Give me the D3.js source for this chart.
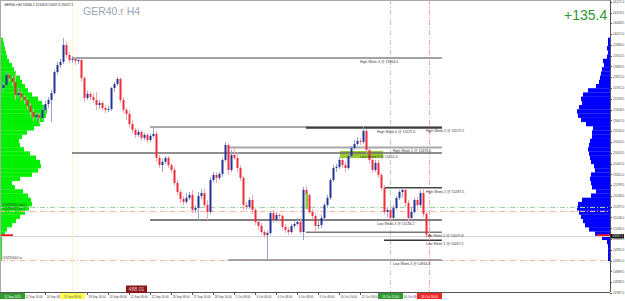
<!DOCTYPE html>
<html lang="en">
<head>
<meta charset="UTF-8">
<title>GER40.r H4</title>
<script src="https://cdn.jsdelivr.net/npm/d3@7"></script>
<style>
  body { margin: 0; background: #fff; }
  svg { display: block; font-family: "Liberation Sans", Arial, sans-serif; }
</style>
</head>
<body>
<div id="chart"></div>
<script>
// H4 bars, [open, high, low, close]
var candles = [
  [15761,15790,15742,15775],[15775,15837,15766,15823],[15823,15832,15790,15808],[15808,15818,15770,15790],
  [15790,15832,15704,15728],[15728,15761,15714,15737],[15737,15747,15699,15718],[15718,15728,15685,15704],
  [15704,15714,15657,15676],[15676,15690,15628,15647],[15647,15661,15604,15623],[15623,15647,15609,15633],
  [15633,15642,15590,15619],[15619,15671,15604,15657],[15657,15699,15642,15685],[15685,15718,15666,15704],
  [15704,15752,15600,15737],[15737,15847,15728,15837],[15837,15885,15823,15870],[15870,15899,15856,15885],
  [15885,15998,15875,15965],[15965,15980,15904,15918],[15918,15932,15880,15894],[15894,15913,15880,15899],
  [15899,15908,15870,15889],[15889,15904,15875,15894],[15894,15899,15790,15808],[15808,15818,15695,15714],
  [15714,15747,15704,15733],[15733,15742,15704,15718],[15718,15737,15690,15704],[15704,15742,15657,15680],
  [15680,15704,15661,15690],[15690,15699,15652,15666],[15666,15676,15642,15657],[15657,15676,15647,15661],
  [15661,15766,15652,15761],[15761,15790,15742,15780],[15780,15813,15771,15804],[15804,15813,15690,15704],
  [15704,15718,15642,15657],[15657,15666,15609,15638],[15638,15657,15576,15590],[15590,15609,15547,15562],
  [15562,15571,15524,15538],[15538,15566,15528,15552],[15552,15562,15509,15524],[15524,15547,15514,15538],
  [15538,15547,15500,15514],[15514,15543,15505,15533],[15533,15571,15524,15543],[15543,15557,15410,15429],
  [15429,15443,15381,15395],[15395,15424,15362,15410],[15410,15438,15400,15429],[15429,15438,15381,15395],
  [15395,15405,15357,15372],[15372,15386,15296,15310],[15310,15324,15253,15267],[15267,15281,15215,15234],
  [15234,15248,15205,15220],[15220,15262,15210,15239],[15239,15267,15229,15253],[15253,15277,15167,15182],
  [15182,15205,15167,15191],[15191,15267,15134,15248],[15248,15281,15234,15262],[15262,15286,15191,15205],
  [15205,15229,15134,15172],[15172,15338,15163,15324],[15324,15362,15315,15348],[15348,15362,15310,15334],
  [15334,15362,15324,15353],[15353,15429,15338,15419],[15419,15505,15410,15490],[15490,15500,15348,15372],
  [15372,15467,15362,15443],[15443,15476,15419,15429],[15429,15457,15362,15381],[15381,15395,15319,15334],
  [15334,15343,15182,15205],[15205,15220,15182,15196],[15196,15243,15186,15229],[15229,15253,15163,15182],
  [15182,15191,15110,15125],[15125,15134,15087,15106],[15106,15120,15068,15077],[15077,15087,15049,15063],
  [15063,15082,14944,15072],[15072,15177,15063,15167],[15167,15182,15120,15134],[15134,15172,15125,15158],
  [15158,15167,15134,15153],[15153,15163,15087,15101],[15101,15115,15072,15087],[15087,15101,15063,15077],
  [15077,15115,15068,15106],[15106,15125,15096,15115],[15115,15144,15106,15125],[15125,15144,15068,15077],
  [15077,15291,15039,15277],[15277,15296,15243,15253],[15253,15262,15163,15172],[15172,15186,15139,15153],
  [15153,15167,15077,15106],[15106,15134,15091,15110],[15110,15158,15096,15144],[15144,15215,15134,15205],
  [15205,15253,15196,15239],[15239,15334,15229,15324],[15324,15395,15315,15381],[15381,15400,15362,15386],
  [15386,15433,15376,15419],[15419,15429,15381,15395],[15395,15410,15362,15381],[15381,15448,15372,15438],
  [15438,15486,15429,15476],[15476,15514,15467,15495],[15495,15528,15486,15509],[15509,15524,15490,15505],
  [15505,15576,15495,15557],[15557,15566,15452,15467],[15467,15476,15405,15419],[15419,15433,15357,15372],
  [15372,15419,15362,15405],[15405,15419,15334,15348],[15348,15357,15272,15286],[15286,15300,15158,15172],
  [15172,15196,15148,15182],[15182,15205,15120,15144],[15144,15205,15134,15191],[15191,15248,15182,15239],
  [15239,15277,15229,15267],[15267,15286,15243,15277],[15277,15286,15196,15215],[15215,15229,15120,15144],
  [15144,15196,15134,15172],[15172,15239,15163,15229],[15229,15243,15182,15205],[15205,15277,15196,15262],
  [15262,15286,15148,15163],[15163,15172,15053,15066],[15066,15107,15037,15057]
];

// price axis labels
var priceTicks = [16171.0, 16119.5, 16068.5, 16017.0, 15966.0, 15914.5, 15863.5, 15812.0, 15761.0,
  15709.5, 15658.5, 15607.0, 15556.0, 15504.5, 15453.5, 15402.0, 15351.0, 15299.5, 15248.5,
  15197.0, 15146.0, 15094.5, 15043.5, 14992.0, 14941.0, 14889.5, 14838.5, 14787.0];

// time axis labels (bar index + text)
var timeBars = [7, 14, 28, 35, 42, 49, 56, 63, 70, 77, 84, 91, 98, 105, 112, 119, 133];
var timeLabels = ["12 Sep 16:00", "14 Sep 08:00", "18 Sep 16:00", "20 Sep 08:00", "21 Sep 08:00",
  "22 Sep 16:00", "26 Sep 08:00", "27 Sep 16:00", "28 Sep 16:00", "2 Oct 08:00", "3 Oct 08:00",
  "4 Oct 08:00", "6 Oct 08:00", "9 Oct 08:00", "10 Oct 16:00", "12 Oct 08:00", "16 Oct 08:00"];

// weekly high / low levels
var levelNames = ["High Week 3", "High Week 2", "High Week 4", "High Week 5", "Low Week 5",
  "High Week 1", "Low Week 4", "Low Week 2", "Low Week 1", "Low Week 3"];
var levelPrices = [15904.0, 15575.5, 15572.0, 15478.5, 15452.4, 15287.5, 15134.2, 15075.8, 15037.5, 14944.0];
var levelFromBar = [23, 49, 101, 75, 23, 127, 49, 101, 127, 75];
var levelLabelBar = [119, 141, 124.7, 130, 119, 141, 124.7, 141, 141, 130];
var levelEndBar = 146.3;

// volume profile (20 pt rows, from 15980 down to 14940)
var profileRows = d3.range(15980, 14939, -20);
var leftVolume = [30,40,50,60,70,90,120,140,160,200,220,250,280,320,380,420,450,470,460,440,400,340,270,
  220,190,200,240,300,360,400,410,380,320,200,120,150,230,280,310,320,290,250,200,160,120,70,50,20,20,20,20,20,20];
var rightVolume = [20,20,30,20,30,70,60,80,90,100,110,140,220,270,290,280,310,330,320,290,240,170,180,
  180,200,210,220,210,200,190,160,150,190,200,190,180,140,190,280,320,330,310,290,270,250,210,150,80,30,20,20,20,20];
var currentRowVolume = [130, 130];

// dash-dot reference levels
var refPrices = [15196, 15177, 14946];
var refNames = ["#20230925 wk#1", "#20230925 w#1", "#20231002 w"];

var zone = {fromBar: 112.3, toBar: 126.7, hi: 15462, lo: 15428};
var markedBar = {bar: 101, hi: 15262, lo: 15186};

var markerBars = [0, 23, 129, 142];
var markerTexts = ["11 Sep 2023", "15 Sep 08:00", "13 Oct 12:00", "16 Oct 16:00"];

var lastPrice = 15057.1;

var W = 625, H = 301, plotR = 610, plotB = 292;
var small = 3.3;

var svg = d3.select("#chart").append("svg")
    .attr("width", W).attr("height", H);

svg.append("rect").attr("width", W).attr("height", H).attr("fill", "#fff");

var x = d3.scaleLinear().domain([0, 142]).range([3, 429]);
var y = d3.scaleLinear().domain([14792, 16179]).range([plotB, 0]);
var vol = d3.scaleLinear().domain([0, 100]).range([0, 10]);

var plot = svg.append("g");

// left (green) profile
plot.selectAll("rect.lp").data(profileRows).join("rect")
    .attr("x", 0)
    .attr("y", function (p) { return y(p + 20); })
    .attr("width", function (p, i) { return vol(leftVolume[i]); })
    .attr("height", function (p) { return y(p) - y(p + 20) + 0.2; })
    .attr("fill", "#00f000");

// right (blue) profile
plot.selectAll("rect.rp").data(profileRows).join("rect")
    .attr("x", function (p, i) { return plotR - vol(rightVolume[i]); })
    .attr("y", function (p) { return y(p + 20); })
    .attr("width", function (p, i) { return vol(rightVolume[i]); })
    .attr("height", function (p) { return y(p) - y(p + 20) + 0.2; })
    .attr("fill", "#0000ff");

// current price row in both profiles
plot.append("rect").attr("x", 0).attr("y", y(15066)).attr("width", vol(currentRowVolume[0]))
    .attr("height", y(15053) - y(15066)).attr("fill", "#ff1010");
plot.append("rect").attr("x", plotR - vol(currentRowVolume[1])).attr("y", y(15066))
    .attr("width", vol(currentRowVolume[1])).attr("height", y(15053) - y(15066)).attr("fill", "#ff1010");

// dash-dot horizontal levels
var refColors = ["#9fd09f", "#f5b59a", "#f5b59a"];
plot.selectAll("line.ref").data(refPrices).join("line")
    .attr("x1", 0).attr("x2", plotR)
    .attr("y1", function (d) { return Math.round(y(d)) + 0.5; })
    .attr("y2", function (d) { return Math.round(y(d)) + 0.5; })
    .attr("stroke", function (d, i) { return refColors[i]; })
    .attr("stroke-dasharray", "5,2,1,2");

plot.selectAll("text.ref").data(refPrices).join("text")
    .attr("x", 2).attr("y", function (d) { return y(d) - 0.8; })
    .attr("font-size", small).attr("fill", "#333")
    .text(function (d, i) { return refNames[i]; });

// current price line
plot.append("line").attr("x1", 0).attr("x2", plotR)
    .attr("y1", Math.round(y(lastPrice)) + 0.5).attr("y2", Math.round(y(lastPrice)) + 0.5)
    .attr("stroke", "#d4d4d4");

// vertical markers
plot.append("line").attr("x1", x(23) + 0.5).attr("x2", x(23) + 0.5).attr("y1", 0).attr("y2", plotB)
    .attr("stroke", "#f4eea0").attr("stroke-dasharray", "1,1");
plot.append("line").attr("x1", x(129) + 0.5).attr("x2", x(129) + 0.5).attr("y1", 0).attr("y2", plotB)
    .attr("stroke", "#b4dcb4").attr("stroke-dasharray", "5,2,1,2");
plot.append("line").attr("x1", x(142) + 0.5).attr("x2", x(142) + 0.5).attr("y1", 0).attr("y2", plotB)
    .attr("stroke", "#f4a8a8").attr("stroke-dasharray", "5,2,1,2");

// zone box
plot.append("rect")
    .attr("x", x(zone.fromBar)).attr("width", x(zone.toBar) - x(zone.fromBar))
    .attr("y", y(zone.hi)).attr("height", y(zone.lo) - y(zone.hi))
    .attr("fill", "#9acd32");

// weekly level lines
var levelColor = {"High Week 3": "#a2a2a2", "High Week 2": "#8c8c8c", "High Week 4": "#3c3c3c",
  "High Week 5": "#a8a8a8", "Low Week 5": "#6a6a6a", "High Week 1": "#444", "Low Week 4": "#555",
  "Low Week 2": "#777", "Low Week 1": "#383838", "Low Week 3": "#8a8a8a"};
var levelWidth = {"High Week 3": 2, "High Week 4": 2, "High Week 5": 2};

plot.selectAll("line.lvl").data(levelPrices).join("line")
    .attr("x1", function (d, i) { return x(levelFromBar[i]); })
    .attr("x2", x(levelEndBar))
    .attr("y1", function (d) { return y(d); })
    .attr("y2", function (d) { return y(d); })
    .attr("stroke", function (d, i) { return levelColor[levelNames[i]]; })
    .attr("stroke-width", function (d, i) { return levelWidth[levelNames[i]] || 1.5; });

// candles
var upBody = "#24339a", dnBody = "#f02c3c", upWick = "#9ba2d2", dnWick = "#f5a8b0";

plot.selectAll("line.wick").data(candles).join("line")
    .attr("x1", function (d, i) { return x(i) + 0.5; })
    .attr("x2", function (d, i) { return x(i) + 0.5; })
    .attr("y1", function (d) { return y(d[1]); })
    .attr("y2", function (d) { return y(d[2]); })
    .attr("stroke", function (d) { return d[3] >= d[0] ? upWick : dnWick; });

plot.selectAll("rect.body").data(candles).join("rect")
    .attr("x", function (d, i) { return x(i) - 0.5; })
    .attr("width", 2)
    .attr("y", function (d) { return y(Math.max(d[0], d[3])); })
    .attr("height", function (d) { return Math.max(1, Math.abs(y(d[0]) - y(d[3]))); })
    .attr("fill", function (d) { return d[3] >= d[0] ? upBody : dnBody; });

// highlighted bar
plot.append("rect")
    .attr("x", x(markedBar.bar) - 0.5).attr("width", 2.5)
    .attr("y", y(markedBar.hi)).attr("height", y(markedBar.lo) - y(markedBar.hi))
    .attr("fill", "#8cc63f");

// level labels
plot.selectAll("text.lvl").data(levelPrices).join("text")
    .attr("x", function (d, i) { return x(levelLabelBar[i]); })
    .attr("y", function (d) { return y(d) + 5; })
    .attr("font-size", 3.5).attr("fill", "#333")
    .text(function (d, i) { return levelNames[i] + " @ " + d3.format(".1f")(d); });

// frame
svg.append("line").attr("x1", 0).attr("x2", plotR).attr("y1", 0.5).attr("y2", 0.5).attr("stroke", "#aaa");
svg.append("line").attr("x1", 0.5).attr("x2", 0.5).attr("y1", 0).attr("y2", plotB).attr("stroke", "#aaa");

// price axis
var yAxis = svg.append("g").attr("transform", "translate(" + plotR + ",0)");
yAxis.append("line").attr("x1", 0.5).attr("x2", 0.5).attr("y1", 0).attr("y2", plotB).attr("stroke", "#555");
yAxis.selectAll("line.t").data(priceTicks).join("line")
    .attr("x1", 0).attr("x2", 2)
    .attr("y1", function (d) { return Math.round(y(d)) + 0.5; })
    .attr("y2", function (d) { return Math.round(y(d)) + 0.5; })
    .attr("stroke", "#555");
yAxis.selectAll("text").data(priceTicks).join("text")
    .attr("x", 3).attr("y", function (d) { return y(d) + 1.2; })
    .attr("font-size", 3.1).attr("fill", "#444")
    .text(function (d) { return d3.format(".1f")(d); });
yAxis.append("rect").attr("x", 0.5).attr("y", y(lastPrice) - 2.2).attr("width", 13.5).attr("height", 4.4)
    .attr("fill", "#111");
yAxis.append("text").attr("x", 2).attr("y", y(lastPrice) + 1.1)
    .attr("font-size", 3.1).attr("fill", "#fff").text(d3.format(".1f")(lastPrice));

// time axis
var xAxis = svg.append("g");
xAxis.append("line").attr("x1", 0).attr("x2", plotR).attr("y1", plotB + 0.5).attr("y2", plotB + 0.5)
    .attr("stroke", "#555");
xAxis.selectAll("line.t").data(timeBars).join("line")
    .attr("x1", function (d) { return x(d) + 0.5; })
    .attr("x2", function (d) { return x(d) + 0.5; })
    .attr("y1", plotB).attr("y2", plotB + 3).attr("stroke", "#555");
xAxis.selectAll("text").data(timeBars).join("text")
    .attr("x", function (d) { return x(d) + 1.5; })
    .attr("y", 297.5).attr("font-size", 2.9).attr("fill", "#444")
    .text(function (d, i) { return timeLabels[i]; });

var markerFill = ["#2f9a2f", "#ffff55", "#2f9a2f", "#f02828"];
var markerInk = ["#fff", "#555", "#fff", "#fff"];
var mk = xAxis.selectAll("g.mk").data(markerBars).join("g")
    .attr("transform", function (d) { return "translate(" + Math.max(x(d), 12) + ",0)"; });
mk.append("rect").attr("x", -12).attr("y", plotB + 1).attr("width", 25).attr("height", 6)
    .attr("fill", function (d, i) { return markerFill[i]; });
mk.append("text").attr("x", 0.5).attr("y", 297.5).attr("text-anchor", "middle")
    .attr("font-size", 2.9).attr("fill", function (d, i) { return markerInk[i]; })
    .text(function (d, i) { return markerTexts[i]; });

// object label at bottom
svg.append("rect").attr("x", 126).attr("y", 285.5).attr("width", 21).attr("height", 7.5).attr("fill", "#8e1418");
svg.append("text").attr("x", 136.5).attr("y", 291.2).attr("text-anchor", "middle")
    .attr("font-size", 5.2).attr("fill", "#e8c8c8").text("488.01");

// header texts
svg.append("text").attr("x", 4).attr("y", 5.5).attr("font-size", 3.3).attr("fill", "#222")
    .text("GER40.r,H4  15066.2 15106.8 15037.4 15057.1");
svg.append("text").attr("x", 83).attr("y", 14.5).attr("font-size", 10.5).attr("fill", "#9aa3b3")
    .text("GER40.r H4");
svg.append("text").attr("x", 564).attr("y", 20).attr("font-size", 14).attr("fill", "#2e9630")
    .text("+135.4");
</script>
</body>
</html>
